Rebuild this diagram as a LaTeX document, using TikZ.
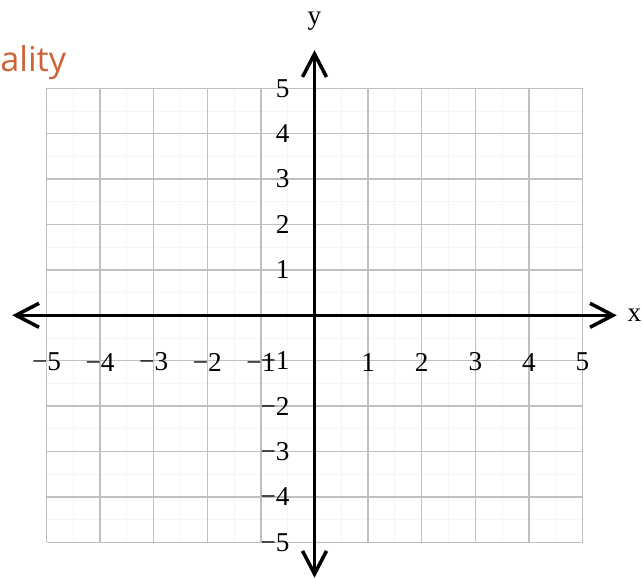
\documentclass[tikz,border=0pt]{standalone}
\usepackage{fontspec}
\setmainfont{Liberation Serif}
\newfontfamily\titlefont{Open Sans}
\usetikzlibrary{arrows.meta}
\definecolor{titleorange}{RGB}{208,98,58}

\begin{document}
\begin{tikzpicture}[x=1.072cm,y=0.908cm,
      every node/.style={font=\fontsize{15.5}{18}\selectfont},
      minorgrid/.style={gray!8,line width=0.5pt},
      majorgrid/.style={gray!50,line width=0.8pt},
      axis/.style={line width=2pt,
        {Straight Barb[length=4.6mm,width=4.8mm]}-{Straight Barb[length=4.6mm,width=4.8mm]}},
      ticklabel/.style={inner sep=0pt}]
      \useasboundingbox (-5.868,-5.786) rectangle (6.110,6.945);
      \node[font=\titlefont\fontsize{19.5}{22}\selectfont,text=titleorange,
        anchor=base west,inner sep=0pt] (title) at (-5.868,5.36) {ality};
      \draw[minorgrid] (-5,-5) grid[step=0.5] (5,5);
      \draw[majorgrid] (-5,-5) grid[step=1] (5,5);
      \coordinate (xl) at (-5.64,0);
      \coordinate (xr) at (5.64,0);
      \coordinate (yb) at (0,-5.78);
      \coordinate (yt) at (0,5.84);
      \draw[axis] (xl) -- (xr);
      \draw[axis] (yb) -- (yt);
      \node (xlab) at (5.97,0) {x};
      \node (ylab) at (0,6.47) {y};
      \foreach \k in {1,...,5} {
        \node[ticklabel] (xp\k) at (\k,-1.03) {\k};
        \node[ticklabel] (xm\k) at (-\k,-1.03) {−\k};
        \node[ticklabel,anchor=east] (yp\k) at (-0.46,\k) {\k};
        \node[ticklabel,anchor=east] (ym\k) at (-0.46,-\k) {−\k};
      }
    \end{tikzpicture}
\end{document}
